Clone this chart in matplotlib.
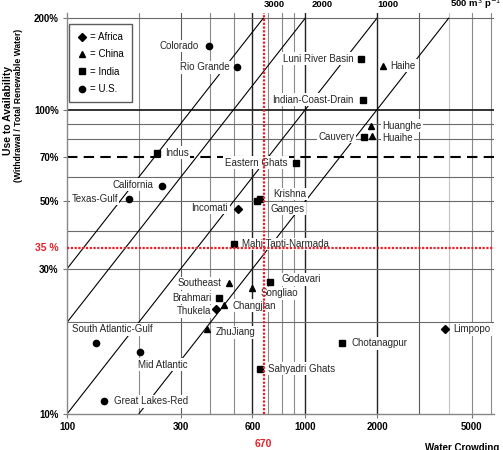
import numpy as np
import matplotlib
matplotlib.use("Agg")
from matplotlib import pyplot as plt
from matplotlib.lines import Line2D

plt.rcParams['font.family'] = ['Liberation Sans', 'DejaVu Sans']

# Datos (x = water crowding, y = uso/disponibilidad en %)
africa_nombres = ['Incomati', 'Thukela', 'Limpopo']
africa_x = [523, 423, 3873]
africa_y = [47.2, 22.1, 19.0]

china_nombres = ['Haihe', 'Huanghe', 'Huaihe', 'Southeast', 'Changjian', 'ZhuJiang', 'Songliao']
china_x = [2128, 1893, 1909, 480, 457, 387, 599]
china_y = [139.5, 88.6, 82.0, 26.9, 22.9, 19.0, 25.9]

india_nombres = ['Luni River Basin', 'Indian-Coast-Drain', 'Cauvery', 'Indus', 'Eastern Ghats',
                 'Krishna', 'Ganges', 'Mahi Tapti-Narmada', 'Brahmari', 'Godavari',
                 'Chotanagpur', 'Sahyadri Ghats']
india_x = [1718, 1754, 1771, 239, 916, 647, 628, 503, 435, 713, 1430, 647]
india_y = [147, 108, 81.5, 72.3, 66.9, 50.9, 50.2, 36.2, 24.1, 27.1, 17.1, 14.1]

us_nombres = ['Colorado', 'Rio Grande', 'California', 'Texas-Gulf', 'South Atlantic-Gulf',
              'Mid Atlantic', 'Great Lakes-Red']
us_x = [395, 518, 250, 182, 132, 202, 143]
us_y = [162, 138, 56.2, 50.9, 17.1, 16.0, 11.0]

# lineas de uso per capita (m3 p-1 yr-1)
usos = [3000, 2000, 1000, 500]

xticks = [100, 300, 600, 1000, 2000, 5000]
yticks = [10, 30, 50, 70, 100, 200]
umbral_x = 670
umbral_y = 35

# posicion de las etiquetas (desplazamiento en px, alineacion)
etiquetas = {
    'Colorado': (-10, 0, 'right'), 'Rio Grande': (-8, 0, 'right'),
    'Luni River Basin': (-8, 0, 'right'), 'Haihe': (7, 0, 'left'),
    'Indian-Coast-Drain': (-10, 0, 'right'), 'Huanghe': (11, 0, 'left'),
    'Huaihe': (10, 2, 'left'), 'Cauvery': (-10, 0, 'right'), 'Indus': (8, 0, 'left'),
    'California': (-8, -1, 'right'), 'Texas-Gulf': (-11, 0, 'right'),
    'Eastern Ghats': (-9, 0, 'right'), 'Incomati': (-10, -1, 'right'),
    'Krishna': (13, -5, 'left'), 'Ganges': (13, 8, 'left'),
    'Mahi Tapti-Narmada': (8, 0, 'left'), 'Southeast': (-8, 0, 'right'),
    'Brahmari': (-8, 0, 'right'), 'Thukela': (-5, 2, 'right'),
    'Changjian': (8, 1, 'left'), 'ZhuJiang': (9, 3, 'left'), 'Songliao': (8, 5, 'left'),
    'Godavari': (11, -3, 'left'), 'South Atlantic-Gulf': (-24, -14, 'left'),
    'Mid Atlantic': (-2, 13, 'left'), 'Great Lakes-Red': (10, 0, 'left'),
    'Limpopo': (8, 0, 'left'), 'Chotanagpur': (9, 0, 'left'),
    'Sahyadri Ghats': (8, 0, 'left'),
}

fig = plt.figure(figsize=(5.03, 4.5), dpi=100)
ax = fig.add_axes([67 / 503, 36 / 450, 427 / 503, 401 / 450])
ax.set_xscale('log')
ax.set_yscale('log')
xmin, xmax = 100, 6200
ymin, ymax = 10, 208
ax.set_xlim(xmin, xmax)
ax.set_ylim(ymin, ymax)

# rejilla
for v in [200, 400, 500, 700, 800, 900, 5000, 6000]:
    ax.axvline(v, color='#8a8a8a', lw=0.8, zorder=1)
for v in [300, 3000]:
    ax.axvline(v, color='#5a5a5a', lw=0.8, zorder=1)
ax.axvline(4000, color='#c4c4c4', lw=0.8, zorder=1)
for v in [600, 1000, 2000]:
    ax.axvline(v, color='#222222', lw=1.0, zorder=1)
for v in [20, 30, 40, 50, 60, 80, 90, 200]:
    ax.axhline(v, color='#6a6a6a', lw=0.8, zorder=1)
ax.axhline(100, color='#222222', lw=1.3, zorder=1)
ax.axhline(70, color='black', lw=1.5, ls=(0, (5, 3)), zorder=1)

# diagonales de uso per capita
for u in usos:
    x0 = max(xmin, 1e5 / u)
    x1 = min(xmax, 2e6 / u)
    xs = np.array([x0, x1])
    ax.plot(xs, u * xs / 1e4, color='black', lw=0.8, zorder=2)

# umbrales
ax.axvline(umbral_x, color='#e8202a', lw=1.6, ls=(0, (1.0, 0.7)), zorder=6)
ax.axhline(umbral_y, color='#e8202a', lw=1.6, ls=(0, (1.0, 0.7)), zorder=6)

grupos = [(africa_nombres, africa_x, africa_y, 'D', 4.0),
          (china_nombres, china_x, china_y, '^', 5.0),
          (india_nombres, india_x, india_y, 's', 4.5),
          (us_nombres, us_x, us_y, 'o', 4.5)]

for nombres, xs, ys, marcador, tam in grupos:
    ax.plot(xs, ys, ls='none', marker=marcador, color='black', markersize=tam, zorder=5)
    for n, x, y in zip(nombres, xs, ys):
        dx, dy, ha = etiquetas[n]
        ax.annotate(n, (x, y), xytext=(dx * 0.72, -dy * 0.72), textcoords='offset points',
                    ha=ha, va='center', fontsize=7, color='#262626', zorder=4,
                    bbox=dict(boxstyle='square,pad=0.15', fc='white', ec='none'))

# ejes
ax.set_xticks(xticks)
ax.set_xticklabels([str(v) for v in xticks], fontweight='bold', fontsize=7)
ax.set_yticks(yticks)
ax.set_yticklabels([f'{v}%' for v in yticks], fontweight='bold', fontsize=7)
ax.minorticks_off()
ax.tick_params(axis='both', length=3, color='#777777', pad=3)
for s in ['top', 'right']:
    ax.spines[s].set_visible(False)
for s in ['left', 'bottom']:
    ax.spines[s].set_color('#888888')
    ax.spines[s].set_linewidth(1.0)

ax.text(umbral_x, -0.075, str(umbral_x), transform=ax.get_xaxis_transform(), ha='center',
        va='center', color='#e8202a', fontweight='bold', fontsize=7.5)
ax.text(-0.02, umbral_y, f'{umbral_y} %', transform=ax.get_yaxis_transform(), ha='right',
        va='center', color='#e8202a', fontweight='bold', fontsize=7.5)

# etiquetas superiores de las diagonales
arriba = [(741, '3000', 'center'), (1178, '2000', 'center'), (2233, '1000', 'center'),
          (4064, '500 m$^3$ p$^{-1}$ yr$^{-1}$', 'left')]
for x, t, ha in arriba:
    ax.text(x, 1.022, t, transform=ax.get_xaxis_transform(), ha=ha, va='center',
            fontweight='bold', fontsize=6.8, clip_on=False)

fig.text(425 / 503, 1 - 443 / 450, 'Water Crowding', ha='left', va='top', fontweight='bold',
         fontsize=7)
fig.text(8 / 503, 1 - 110 / 450, 'Use to Availability', rotation=90, ha='center',
         va='center', fontweight='bold', fontsize=7.5)
fig.text(19 / 503, 1 - 105 / 450, '(Withdrawal / Total Renewable Water)', rotation=90,
         ha='center', va='center', fontweight='bold', fontsize=6.2)

# leyenda
manejadores = [Line2D([], [], ls='none', marker='D', color='black', markersize=4),
               Line2D([], [], ls='none', marker='^', color='black', markersize=5),
               Line2D([], [], ls='none', marker='s', color='black', markersize=4.5),
               Line2D([], [], ls='none', marker='o', color='black', markersize=4.5)]
leg = ax.legend(manejadores, ['= Africa', '= China', '= India', '= U.S.'],
                loc='upper left', bbox_to_anchor=(0.005, 0.973), borderaxespad=0,
                fontsize=7, frameon=True, fancybox=False, handlelength=1.0,
                handletextpad=0.3, labelspacing=0.75, borderpad=0.85)
leg.get_frame().set_edgecolor('#333333')
leg.get_frame().set_linewidth(1.0)
leg.set_zorder(7)

plt.savefig('out.png', dpi=100)
